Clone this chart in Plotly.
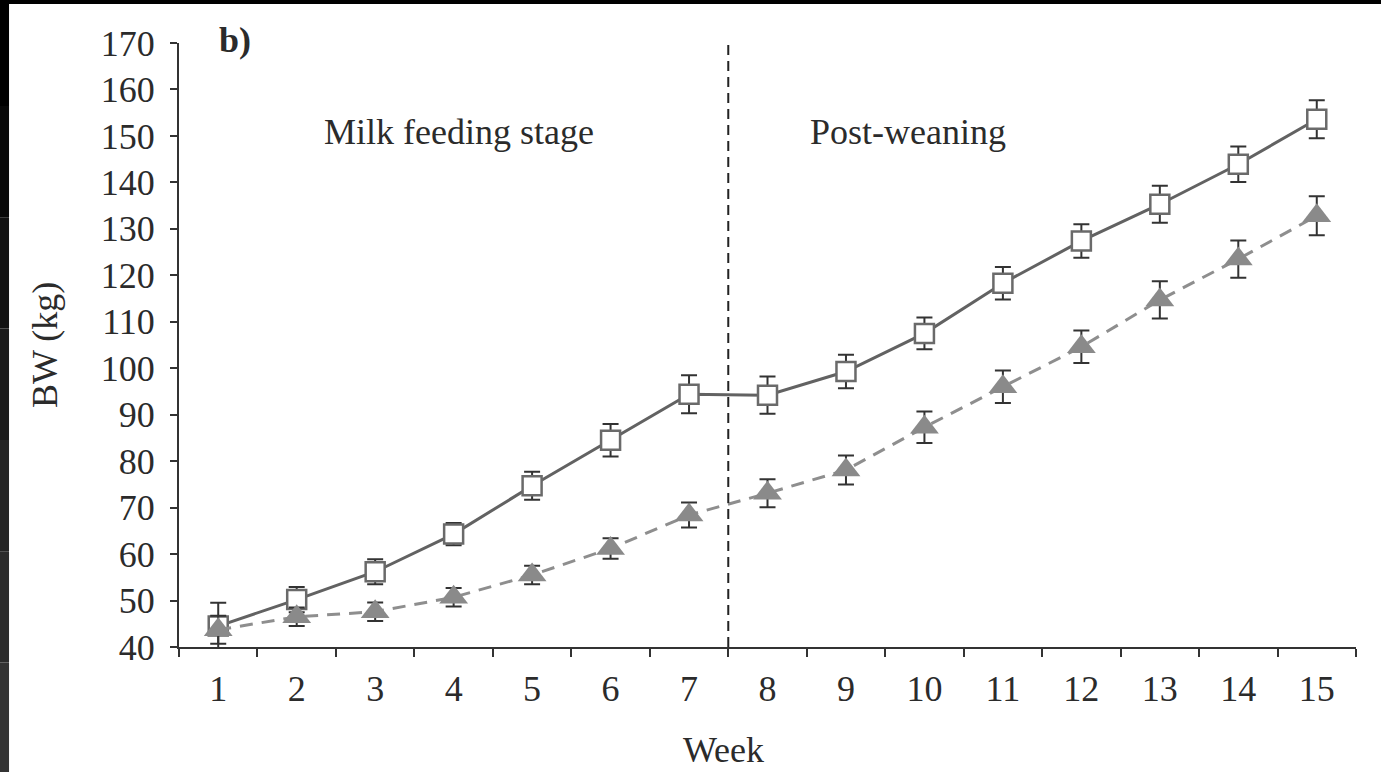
import plotly.graph_objects as go

weeks = list(range(1, 16))
week_labels = [str(w) for w in weeks]

bw_square = [44.5, 50.2, 56.2, 64.3, 74.7, 84.5, 94.4, 94.2, 99.3, 107.5, 118.3, 127.4, 135.3, 143.9, 153.6]
err_square = [5.0, 2.7, 2.7, 2.4, 3.0, 3.5, 4.1, 4.0, 3.6, 3.4, 3.5, 3.6, 4.0, 3.8, 4.1]

bw_triangle = [43.7, 46.5, 47.6, 50.7, 55.5, 61.2, 68.4, 73.1, 78.1, 87.3, 96.0, 104.6, 114.7, 123.5, 132.8]
err_triangle = [3.0, 2.0, 2.0, 2.0, 2.0, 2.2, 2.7, 3.0, 3.1, 3.4, 3.5, 3.5, 4.0, 4.0, 4.2]

weaning_week = 7.5
y_min, y_max = 40, 170
stage_labels = ["Milk feeding stage", "Post-weaning"]

FONT = "Liberation Serif, Times New Roman, serif"
TXT = "#2b2b2b"
AX = "#333333"

fig = go.Figure()

fig.add_trace(go.Scatter(
    x=weeks, y=bw_square, mode="lines+markers",
    line=dict(color="#626262", width=3),
    marker=dict(symbol="square", size=19, color="white",
                line=dict(color="#6a6a6a", width=2.5)),
    error_y=dict(type="data", array=err_square, visible=True,
                 color=AX, thickness=2, width=8),
    showlegend=False,
))

fig.add_trace(go.Scatter(
    x=weeks, y=bw_triangle, mode="lines+markers",
    line=dict(color="#8e8e8e", width=3, dash="13px,9px"),
    marker=dict(symbol="triangle-up", size=25, color="#8a8a8a",
                line=dict(width=0)),
    error_y=dict(type="data", array=err_triangle, visible=True,
                 color=AX, thickness=2, width=8),
    showlegend=False,
))

# vertical dashed separator
fig.add_shape(type="line", xref="x", yref="y",
              x0=weaning_week, x1=weaning_week, y0=y_min, y1=y_max,
              line=dict(color="#222222", width=2, dash="10px,6px"))

# black scan border (top and left)
fig.add_shape(type="rect", xref="paper", yref="paper", layer="above",
              x0=-0.1521, x1=1.03, y0=1.0646, y1=1.08,
              fillcolor="black", line=dict(width=0))
left_cols = ["#000000", "#080808", "#111111", "#1a1a1a", "#232323", "#2b2b2b", "#333333"]
n = len(left_cols)
ytop, ybot = 1.08, -0.21
for i, c in enumerate(left_cols):
    fig.add_shape(type="rect", xref="paper", yref="paper", layer="above",
                  x0=-0.1521, x1=-0.1444,
                  y0=ytop - (i + 1) * (ytop - ybot) / n,
                  y1=ytop - i * (ytop - ybot) / n,
                  fillcolor=c, line=dict(width=0))

fig.add_annotation(x=4.07, y=150.8, xref="x", yref="y", text=stage_labels[0],
                   showarrow=False, font=dict(family=FONT, size=36, color=TXT))
fig.add_annotation(x=9.79, y=150.8, xref="x", yref="y", text=stage_labels[1],
                   showarrow=False, font=dict(family=FONT, size=36, color=TXT))
fig.add_annotation(x=0.0476, y=1.005, xref="paper", yref="paper", text="<b>b)</b>",
                   xanchor="center", yanchor="middle",
                   showarrow=False, font=dict(family=FONT, size=36, color=TXT))

# axis titles
fig.add_annotation(x=0.4623, y=-0.1705, xref="paper", yref="paper", text="Week",
                   xanchor="center", yanchor="middle",
                   showarrow=False, font=dict(family=FONT, size=36, color=TXT))
fig.add_annotation(x=-0.1138, y=0.5, xref="paper", yref="paper", text="BW (kg)",
                   xanchor="center", yanchor="middle",
                   textangle=-90, showarrow=False,
                   font=dict(family=FONT, size=36, color=TXT))

fig.update_xaxes(
    range=[0.5, 15.5], tickmode="array", tickvals=weeks, ticktext=week_labels,
    ticks="", showgrid=False, zeroline=False,
    showline=True, linecolor=AX, linewidth=2,
    tickfont=dict(family=FONT, size=36, color=TXT),
    ticklabelstandoff=9,
    minor=dict(tickmode="array", tickvals=[w + 0.5 for w in [0] + weeks],
               ticks="outside", ticklen=8, tickwidth=2, tickcolor=AX,
               showgrid=False),
)
fig.update_yaxes(
    range=[y_min, y_max], tickmode="linear", tick0=40, dtick=10,
    ticks="outside", ticklen=7, tickwidth=2, tickcolor=AX,
    showgrid=False, zeroline=False,
    showline=True, linecolor=AX, linewidth=2,
    tickfont=dict(family=FONT, size=36, color=TXT),
    ticklabelstandoff=8,
)

fig.update_layout(
    width=1381, height=772,
    margin=dict(l=179, r=25, t=43, b=125, autoexpand=False),
    paper_bgcolor="white", plot_bgcolor="white",
)

fig.write_html("out.html", include_plotlyjs=True, config={"displayModeBar": False})
